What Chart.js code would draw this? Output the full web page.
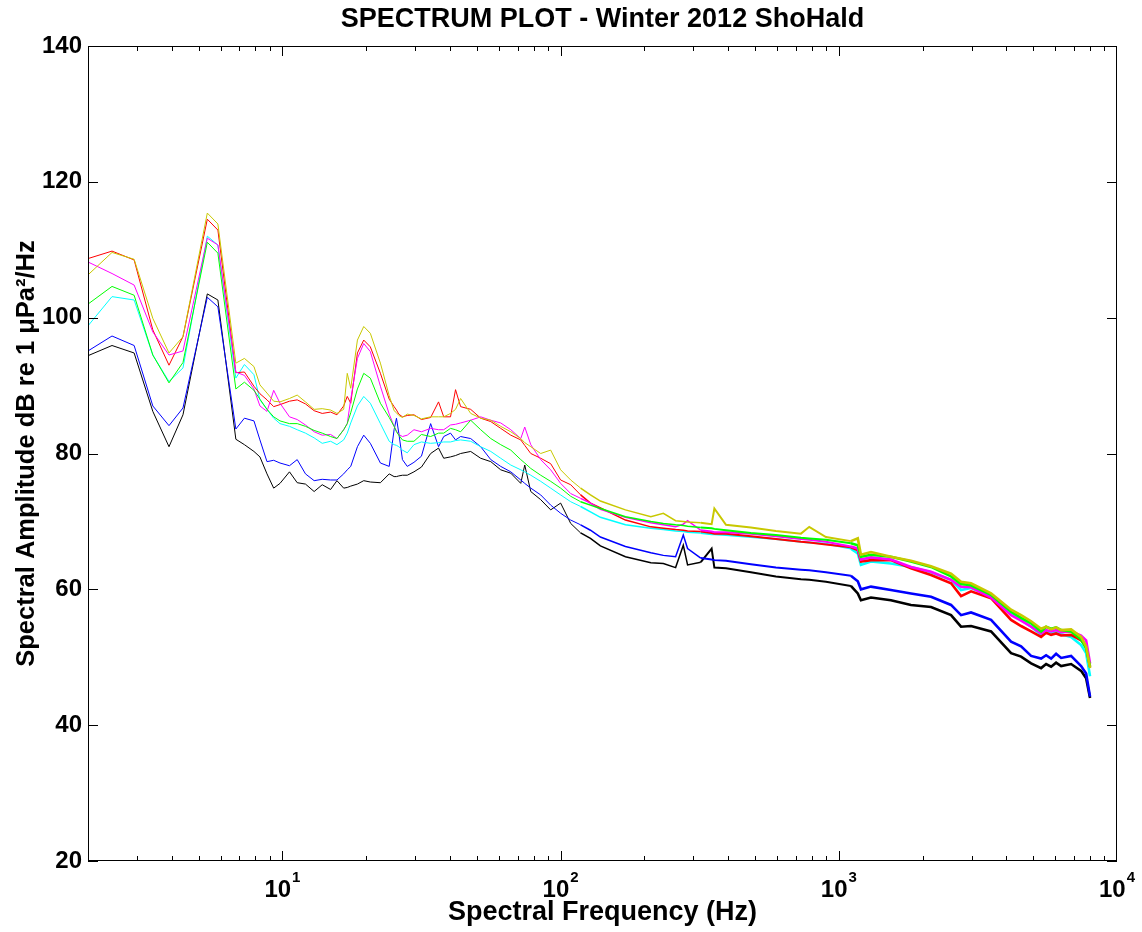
<!DOCTYPE html>
<html>
<head>
<meta charset="utf-8">
<title>Spectrum plot</title>
<script src="https://cdn.jsdelivr.net/npm/chart.js@4.4.1/dist/chart.umd.min.js"></script>
<style>
  html, body { margin: 0; padding: 0; background: #fff; }
  canvas { display: block; }
</style>
</head>
<body>
<canvas id="spectrum" width="1142" height="932"></canvas>
<script>
// Frequency bins (Hz), shared by every curve
const freqs = [
  2, 2.44, 2.93, 3.42, 3.91, 4.39, 5.37, 5.86,
  6.8, 7.3, 7.9, 8.3, 8.8, 9.3, 9.8, 10.6,
  11.3, 12.1, 13.0, 13.9, 14.9, 15.7, 16.6, 17.1,
  17.6, 18.6, 19.6, 20.7, 22.5, 24.2, 25.2, 25.7,
  26.2, 27.0, 28.1, 29.7, 31.6, 34.1, 36.4, 38,
  40.2, 41.9, 43.7, 47.5, 51.6, 56.1, 60.9, 66.2,
  71.9, 74.3, 78.1, 84.8, 92.1, 100, 108.7, 118,
  128, 139, 171, 211, 234, 259, 276, 286,
  319, 349, 357, 393, 483, 594, 731, 783,
  899, 1105, 1170, 1201, 1305, 1539, 1817, 2145,
  2532, 2750, 2987, 3526, 4161, 4521, 4912, 5336,
  5561, 5797, 6040, 6297, 6839, 7430, 7745, 8000
];

// Spectral amplitude (dB re 1 uPa^2/Hz) for each curve
const blackVals = [
  94.4, 95.9, 94.8, 86.2, 81.0, 85.7, 103.5, 102.6,
  82.1, 81.3, 80.3, 79.5, 77.0, 74.9, 75.6, 77.3,
  75.7, 75.5, 74.4, 75.4, 74.7, 76.0, 74.9, 75.0,
  75.2, 75.5, 76.0, 75.8, 75.7, 77.0, 76.6, 76.6,
  76.7, 76.8, 76.8, 77.3, 78.0, 80.0, 80.8, 79.3,
  79.5, 79.7, 80.0, 80.3, 79.3, 78.8, 77.6, 77.1,
  75.6, 78.3, 74.4, 73.2, 71.7, 72.7, 69.7, 68.3,
  67.5, 66.4, 64.8, 63.9, 63.8, 63.2, 66.5, 63.6,
  64.0, 66.0, 63.2, 63.1, 62.5, 61.9, 61.5, 61.4,
  61.1, 60.5, 59.4, 58.4, 58.8, 58.4, 57.7, 57.4,
  56.2, 54.5, 54.6, 53.8, 50.6, 50.1, 49.1, 48.4,
  49.0, 48.6, 49.2, 48.7, 49.0, 48.0, 46.9, 44.0
];
const blueVals = [
  95.1, 97.3, 95.9, 87.0, 84.1, 86.7, 103.0, 101.6,
  83.6, 85.2, 84.8, 82.0, 78.8, 79.0, 78.6, 78.2,
  79.1, 77.0, 76.0, 76.2, 76.1, 76.1, 77.0, 77.6,
  78.1, 81.0, 82.7, 81.5, 78.6, 78.1, 83.5, 85.2,
  83.0, 79.1, 78.1, 78.7, 79.6, 84.4, 81.0, 82.5,
  83.0, 82.0, 82.5, 82.2, 81.0, 79.1, 78.1, 77.3,
  76.1, 75.6, 74.9, 73.9, 72.4, 71.2, 70.2, 69.5,
  68.7, 67.7, 66.3, 65.4, 65.0, 64.8, 68.0, 66.0,
  64.6, 64.4, 64.3, 64.2, 63.7, 63.2, 62.9, 62.8,
  62.5, 62.0, 61.2, 60.0, 60.4, 59.9, 59.4, 58.9,
  57.7, 56.2, 56.6, 55.5, 52.3, 51.6, 50.2, 49.8,
  50.3, 49.8, 50.5, 49.9, 50.2, 48.7, 47.6, 44.2
];
const cyanVals = [
  98.8, 103.1, 102.6, 94.5, 90.6, 92.6, 112.0, 110.7,
  91.1, 93.1, 91.6, 87.9, 86.5, 85.2, 84.4, 84.0,
  83.5, 83.0, 82.3, 81.5, 81.8, 81.3, 82.0, 83.0,
  84.5, 87.0, 88.4, 87.4, 84.4, 81.8, 81.3, 81.2,
  81.0, 80.5, 80.1, 81.3, 81.7, 81.5, 81.6, 81.7,
  81.7, 81.9, 82.0, 81.8, 81.0, 80.3, 79.3, 78.3,
  77.6, 77.3, 76.8, 75.9, 74.9, 73.9, 72.9, 72.2,
  71.4, 70.6, 69.5, 69.0, 68.8, 68.6, 68.5, 68.4,
  68.3, 68.1, 68.1, 68.0, 67.7, 67.4, 67.0, 66.9,
  66.7, 66.0, 65.3, 63.6, 64.1, 63.8, 63.3, 62.5,
  61.4, 59.9, 60.2, 59.0, 56.5, 55.5, 54.5, 53.3,
  53.9, 53.5, 53.7, 53.4, 53.0, 51.8, 50.6, 47.2
];
const greenVals = [
  102.0, 104.6, 103.3, 94.5, 90.4, 93.4, 111.1, 109.5,
  89.5, 90.5, 89.3, 88.0, 86.5, 85.4, 84.8, 84.4,
  84.4, 84.0, 83.4, 83.0, 82.5, 82.2, 83.5, 84.4,
  86.0, 89.5, 91.8, 91.1, 87.4, 85.3, 84.0, 83.2,
  82.7, 82.0, 81.8, 81.8, 82.8, 82.5, 83.0, 83.0,
  83.7, 83.5, 83.2, 84.9, 83.5, 82.2, 81.3, 80.5,
  79.1, 78.6, 77.8, 76.8, 75.9, 74.9, 73.7, 72.9,
  72.4, 71.9, 70.7, 70.0, 69.7, 69.5, 69.4, 69.3,
  69.1, 69.0, 68.9, 68.7, 68.3, 68.0, 67.6, 67.5,
  67.3, 66.8, 66.5, 64.8, 65.1, 64.8, 64.1, 63.3,
  61.9, 60.8, 60.6, 59.2, 56.7, 55.8, 55.0, 53.8,
  54.5, 54.2, 54.4, 54.0, 53.8, 52.6, 51.3, 48.6
];
const magentaVals = [
  108.2, 106.5, 104.8, 97.9, 94.5, 95.1, 111.7, 110.7,
  92.0, 91.5, 89.5, 87.0, 86.2, 89.3, 87.4, 85.4,
  85.0, 84.2, 83.2, 82.7, 82.8, 82.2, 83.5, 84.4,
  88.0, 94.0, 96.2, 95.0, 89.9, 85.8, 84.0, 83.3,
  82.8, 82.5, 82.7, 83.5, 83.2, 83.7, 83.5, 83.5,
  84.2, 84.3, 84.5, 84.9, 85.4, 84.9, 84.5, 83.5,
  82.2, 83.9, 81.3, 79.1, 77.6, 75.6, 74.1, 73.4,
  72.7, 71.8, 70.6, 69.8, 69.5, 69.2, 69.6, 70.1,
  68.7, 68.5, 68.4, 68.4, 68.2, 67.8, 67.4, 67.3,
  67.0, 66.3, 66.0, 64.4, 64.7, 64.4, 63.3, 62.6,
  61.4, 60.4, 60.3, 58.8, 56.2, 55.4, 54.5, 53.5,
  54.0, 53.8, 54.0, 53.7, 53.8, 53.2, 52.5, 49.1
];
const redVals = [
  108.7, 109.8, 108.5, 98.2, 93.0, 97.2, 114.5, 112.9,
  91.9, 92.0, 89.9, 88.8, 87.9, 86.9, 87.2, 87.7,
  87.9, 87.3, 86.3, 85.9, 86.1, 85.7, 87.0, 88.4,
  87.4, 94.8, 96.7, 95.7, 91.8, 88.0, 86.9, 86.4,
  85.8, 85.4, 85.6, 85.7, 85.0, 85.3, 87.6, 85.4,
  85.4, 89.4, 86.9, 86.5, 85.2, 84.7, 83.7, 82.7,
  82.0, 81.2, 80.0, 79.3, 78.5, 76.1, 75.4, 73.9,
  72.7, 72.0, 70.2, 69.2, 69.0, 68.8, 68.7, 68.6,
  68.5, 68.3, 68.2, 68.2, 67.8, 67.4, 67.0, 66.9,
  66.6, 66.2, 65.8, 64.1, 64.3, 64.3, 63.1, 62.1,
  60.9, 59.0, 59.7, 58.7, 55.5, 54.6, 53.8, 53.0,
  53.6, 53.3, 53.5, 53.2, 53.3, 52.5, 51.6, 48.6
];
const yellowVals = [
  106.3, 109.6, 108.6, 99.9, 94.8, 97.2, 115.4, 113.8,
  93.3, 94.0, 92.8, 90.1, 88.9, 87.7, 87.6, 88.1,
  88.6, 87.6, 86.5, 86.6, 86.4, 85.9, 86.5, 91.8,
  89.6, 96.7, 98.7, 97.7, 93.3, 88.5, 86.3, 86.0,
  85.6, 85.3, 85.8, 85.6, 85.1, 85.4, 85.4, 85.4,
  85.9, 86.5, 88.1, 85.9, 85.2, 84.9, 84.0, 83.2,
  82.2, 81.6, 81.0, 80.0, 80.5, 77.6, 76.1, 74.9,
  73.9, 73.0, 71.7, 70.7, 71.2, 70.1, 70.0, 69.9,
  69.8, 69.6, 71.9, 69.5, 69.1, 68.6, 68.2, 69.2,
  67.7, 67.1, 67.5, 65.1, 65.5, 64.8, 64.2, 63.4,
  62.3, 61.1, 60.9, 59.4, 57.0, 56.2, 55.3, 54.2,
  54.5, 54.1, 54.4, 54.0, 54.1, 53.0, 51.6, 48.4
];

// Axis ticks
const yTicks = [20, 40, 60, 80, 100, 120, 140];
const xDecades = [1, 2, 3, 4];

const FONT = '"Liberation Sans", Arial, Helvetica, sans-serif';
const TITLE = 'SPECTRUM PLOT - Winter 2012 ShoHald';

// denser (noisier) data at high frequency looks like a thicker trace
function traceWidth(f) {
  if (f >= 1000) return 2.6;
  if (f >= 300) return 2;
  if (f >= 110) return 1.5;
  return 1;
}

function makeSeries(vals, color) {
  return {
    data: freqs.map((f, i) => ({ x: f, y: vals[i] })),
    borderColor: color,
    borderWidth: 1,
    pointRadius: 0,
    tension: 0,
    fill: false,
    segment: { borderWidth: ctx => traceWidth(ctx.p0.parsed.x) }
  };
}

// first dataset is painted last, so yellow ends up on top
const datasets = [
  makeSeries(yellowVals, '#c8c800'),
  makeSeries(greenVals, '#00ff00'),
  makeSeries(magentaVals, '#ff00ff'),
  makeSeries(redVals, '#ff0000'),
  makeSeries(cyanVals, '#00ffff'),
  makeSeries(blueVals, '#0000ff'),
  makeSeries(blackVals, '#000000')
];

// box, inward MATLAB style ticks, 10^n labels and the title over the plot area
const framePlugin = {
  id: 'frame',
  afterDraw(chart) {
    const { ctx, chartArea: a, scales: { x, y } } = chart;
    ctx.save();
    ctx.strokeStyle = '#000';
    ctx.lineWidth = 1;
    ctx.strokeRect(a.left + 0.5, a.top + 0.5, a.width - 1, a.height - 1);

    ctx.beginPath();
    for (let d = 0; d < 4; d++) {
      for (let m = 1; m <= 9; m++) {
        const v = m * Math.pow(10, d);
        if (v < 2 || v > 10000) continue;
        const px = Math.round(x.getPixelForValue(v)) + 0.5;
        const len = m === 1 ? 10 : 5;
        ctx.moveTo(px, a.bottom);
        ctx.lineTo(px, a.bottom - len);
        ctx.moveTo(px, a.top);
        ctx.lineTo(px, a.top + len);
      }
    }
    yTicks.forEach(v => {
      const py = Math.round(y.getPixelForValue(v)) + 0.5;
      ctx.moveTo(a.left, py);
      ctx.lineTo(a.left + 10, py);
      ctx.moveTo(a.right, py);
      ctx.lineTo(a.right - 10, py);
    });
    ctx.stroke();

    ctx.fillStyle = '#000';
    ctx.textBaseline = 'alphabetic';
    ctx.textAlign = 'left';
    xDecades.forEach(p => {
      const px = x.getPixelForValue(Math.pow(10, p));
      ctx.font = 'bold 24px ' + FONT;
      const wb = ctx.measureText('10').width;
      ctx.font = 'bold 15px ' + FONT;
      const we = ctx.measureText(String(p)).width;
      const start = px - (wb + we + 1) / 2;
      ctx.font = 'bold 24px ' + FONT;
      ctx.fillText('10', start, a.bottom + 36);
      ctx.font = 'bold 15px ' + FONT;
      ctx.fillText(String(p), start + wb + 1, a.bottom + 21);
    });

    ctx.textAlign = 'center';
    ctx.font = 'bold 27px ' + FONT;
    ctx.fillText(TITLE, (a.left + a.right) / 2, 27);
    ctx.restore();
  }
};

new Chart(document.getElementById('spectrum'), {
  type: 'line',
  data: { datasets: datasets },
  plugins: [framePlugin],
  options: {
    responsive: false,
    animation: false,
    events: [],
    layout: { padding: { top: 46, right: 25, bottom: 0, left: 0 } },
    plugins: {
      legend: { display: false },
      tooltip: { enabled: false },
      title: { display: false }
    },
    scales: {
      x: {
        type: 'logarithmic',
        min: 2,
        max: 10000,
        grid: { display: false, drawTicks: false },
        border: { display: false },
        ticks: { display: false },
        title: {
          display: true,
          text: 'Spectral Frequency (Hz)',
          color: '#000',
          font: { family: FONT, size: 27, weight: 'bold' },
          padding: { top: 0, bottom: 3 }
        },
        afterFit: s => { s.height = 71; }
      },
      y: {
        min: 20,
        max: 140,
        grid: { display: false, drawTicks: false },
        border: { display: false },
        ticks: {
          stepSize: 20,
          padding: 6,
          color: '#000',
          font: { family: FONT, size: 24, weight: 'bold' }
        },
        title: {
          display: true,
          text: 'Spectral Amplitude dB re 1 \u03bcPa\u00b2/Hz',
          color: '#000',
          font: { family: FONT, size: 25.5, weight: 'bold' },
          padding: { top: 12, bottom: 0 }
        },
        afterFit: s => { s.width = 88; }
      }
    }
  }
});
</script>
</body>
</html>
